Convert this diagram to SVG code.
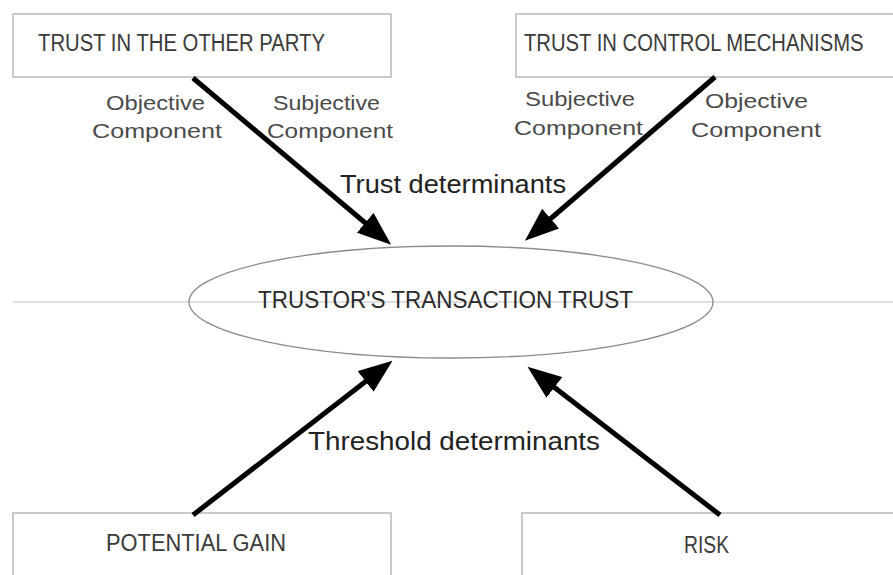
<svg xmlns="http://www.w3.org/2000/svg" width="893" height="575" viewBox="0 0 893 575">
<style>
.box{fill:#fff;stroke:#bdbdbd;stroke-width:1.6}
.ttl{font-family:"Liberation Sans",Arial,sans-serif;font-size:23px;fill:#3a3a3a}
.cmp{font-family:"Liberation Sans",Arial,sans-serif;font-size:20px;fill:#4a4a4a}
.det{font-family:"Liberation Sans",Arial,sans-serif;font-size:25px;fill:#222}
.arr{stroke:#000;stroke-width:5;fill:none;marker-end:url(#ah)}
</style>
<defs>
<marker id="ah" markerUnits="userSpaceOnUse" markerWidth="34" markerHeight="26" viewBox="0 0 34 26" refX="22" refY="13" orient="auto">
<path d="M0,0 L34,13 L0,26 z" fill="#000"/>
</marker>
</defs>
<rect width="893" height="575" fill="#fff"/>
<line x1="13" y1="302" x2="893" y2="302" stroke="#d4d4d4" stroke-width="1.5"/>
<g id="n-other-party">
<rect class="box" x="13" y="14" width="378" height="63"/>
<text class="ttl" x="38" y="51" textLength="287" lengthAdjust="spacingAndGlyphs">TRUST IN THE OTHER PARTY</text>
</g>
<g id="n-control">
<rect class="box" x="516" y="14" width="380" height="63"/>
<text class="ttl" transform="translate(524,51) scale(0.88,1)" x="0" y="0">TRUST IN CONTROL MECHANISMS</text>
</g>
<g id="n-transaction-trust">
<ellipse cx="451" cy="302" rx="262" ry="56" fill="none" stroke="#8a8a8a" stroke-width="1.3"/>
<text class="ttl" x="258" y="308" textLength="375" lengthAdjust="spacingAndGlyphs" style="font-size:24px;fill:#2a2a2a">TRUSTOR'S TRANSACTION TRUST</text>
</g>
<g id="n-gain">
<rect class="box" x="13" y="513" width="378" height="70"/>
<text class="ttl" x="106" y="551" textLength="180" lengthAdjust="spacingAndGlyphs">POTENTIAL GAIN</text>
</g>
<g id="n-risk">
<rect class="box" x="522" y="513" width="380" height="70"/>
<text class="ttl" x="684" y="553" textLength="45" lengthAdjust="spacingAndGlyphs">RISK</text>
</g>
<g id="connectors">
<line class="arr" x1="193" y1="78" x2="382" y2="237"/>
<line class="arr" x1="715" y1="77" x2="534" y2="233"/>
<line class="arr" x1="193" y1="515" x2="383" y2="368"/>
<line class="arr" x1="720" y1="515" x2="537" y2="374"/>
</g>
<g id="labels">
<text class="cmp" x="106" y="110" textLength="99" lengthAdjust="spacingAndGlyphs">Objective</text>
<text class="cmp" x="92" y="138" textLength="130" lengthAdjust="spacingAndGlyphs">Component</text>
<text class="cmp" x="273" y="110" textLength="107" lengthAdjust="spacingAndGlyphs">Subjective</text>
<text class="cmp" x="267" y="138" textLength="126" lengthAdjust="spacingAndGlyphs">Component</text>
<text class="cmp" x="525" y="106" textLength="110" lengthAdjust="spacingAndGlyphs">Subjective</text>
<text class="cmp" x="514" y="135" textLength="129" lengthAdjust="spacingAndGlyphs">Component</text>
<text class="cmp" x="705" y="108" textLength="103" lengthAdjust="spacingAndGlyphs">Objective</text>
<text class="cmp" x="691" y="137" textLength="130" lengthAdjust="spacingAndGlyphs">Component</text>
<text class="det" x="340" y="193" textLength="226" lengthAdjust="spacingAndGlyphs">Trust determinants</text>
<text class="det" x="308" y="450" textLength="292" lengthAdjust="spacingAndGlyphs">Threshold determinants</text>
</g>
</svg>
